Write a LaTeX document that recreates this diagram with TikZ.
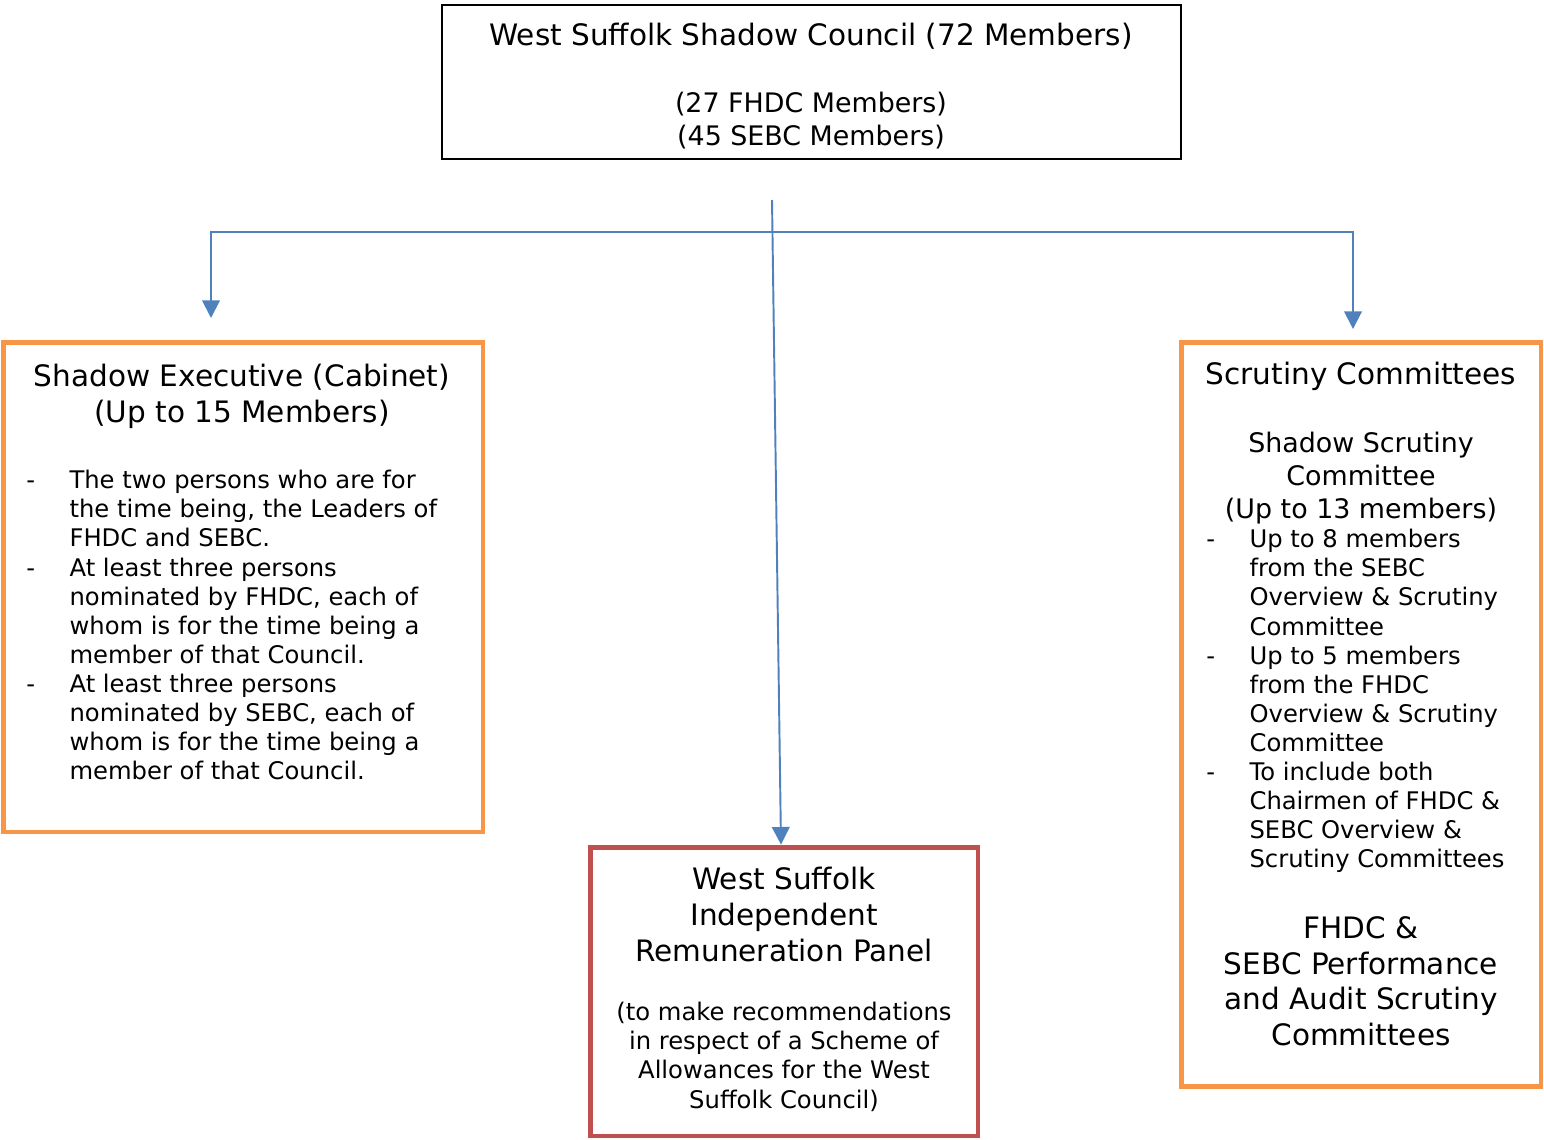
\documentclass[tikz,border=0pt]{standalone}
\usepackage{fontspec}
\setmainfont{DejaVu Sans}
\usetikzlibrary{arrows.meta}

\definecolor{linkblue}{RGB}{79,129,189}
\definecolor{boxorange}{RGB}{247,150,70}
\definecolor{boxred}{RGB}{192,80,77}

\newcommand{\smalltxt}{\fontsize{13.8}{16.55}\selectfont}
\newcommand{\midtxt}{\fontsize{15.3}{18.7}\selectfont}
\newcommand{\bigtxt}{\fontsize{16.8}{20.4}\selectfont}
\newcommand{\itm}{\makebox[24.6pt][l]{-}}
\newcommand{\cnt}{\hspace*{24.6pt}}

\begin{document}
\begin{tikzpicture}[x=0.02cm,y=-0.02cm,
    link/.style={draw=linkblue,line width=1.1pt},
    tip/.style={-{Triangle[width=10pt,length=10pt]}},
    box/.style={draw=boxorange,line width=2.8pt},
    txt/.style={inner sep=0pt,anchor=north,align=center},
    lst/.style={inner sep=0pt,anchor=north west,align=left,font=\smalltxt}]
    \useasboundingbox (0,0) rectangle (1544,1139);

    \node[draw,line width=1pt,minimum width=14.78cm,minimum height=3.08cm] (council) at (811.5,82) {};
    \node[box,minimum width=9.6cm,minimum height=9.8cm] (exec) at (243,587) {};
    \node[box,draw=boxred,minimum width=7.76cm,minimum height=5.78cm] (panel) at (784,991.5) {};
    \node[box,minimum width=7.2cm,minimum height=14.9cm] (scrutiny) at (1361,714.5) {};

    \node[txt,font=\bigtxt] (council-title) at (811,23) {West Suffolk Shadow Council (72 Members)};
    \node[txt,font=\midtxt] (council-sub) at (811,92) {(27 FHDC Members)\\(45 SEBC Members)};

    \node[txt,font=\bigtxt] (exec-head) at (242,364) {Shadow Executive (Cabinet)\\(Up to 15 Members)};
    \node[lst] (exec-list) at (26,470) {\itm The two persons who are for\\
        \cnt the time being, the Leaders of\\
        \cnt FHDC and SEBC.\\
        \itm At least three persons\\
        \cnt nominated by FHDC, each of\\
        \cnt whom is for the time being a\\
        \cnt member of that Council.\\
        \itm At least three persons\\
        \cnt nominated by SEBC, each of\\
        \cnt whom is for the time being a\\
        \cnt member of that Council.};

    \node[txt,font=\bigtxt] (panel-head) at (784,867) {West Suffolk\\Independent\\Remuneration Panel};
    \node[txt,font=\smalltxt] (panel-note) at (784,1002) {(to make recommendations\\in respect of a Scheme of\\Allowances for the West\\Suffolk Council)};

    \node[txt,font=\bigtxt] (scrut-head) at (1361,362) {Scrutiny Committees};
    \node[txt,font=\midtxt] (scrut-sub) at (1361,432) {Shadow Scrutiny\\Committee\\(Up to 13 members)};
    \node[lst] (scrut-list) at (1206,529) {\itm Up to 8 members\\
        \cnt from the SEBC\\
        \cnt Overview \& Scrutiny\\
        \cnt Committee\\
        \itm Up to 5 members\\
        \cnt from the FHDC\\
        \cnt Overview \& Scrutiny\\
        \cnt Committee\\
        \itm To include both\\
        \cnt Chairmen of FHDC \&\\
        \cnt SEBC Overview \&\\
        \cnt Scrutiny Committees};
    \node[txt,font=\bigtxt] (scrut-perf) at (1361,916) {FHDC \&\\SEBC Performance\\and Audit Scrutiny\\Committees};

    \coordinate (stub) at (772,200);
    \coordinate (bus-l) at (211,232);
    \coordinate (bus-r) at (1353,232);
    \coordinate (exec-in) at (211,318);
    \coordinate (scrut-in) at (1353,329);

    \draw[link,tip] (stub) -- ([xshift=-3*0.02cm]panel.north);
    \draw[link,{Triangle[width=10pt,length=10pt]}-{Triangle[width=10pt,length=10pt]}] (exec-in) -- (bus-l) -- (bus-r) -- (scrut-in);
\end{tikzpicture}
\end{document}
